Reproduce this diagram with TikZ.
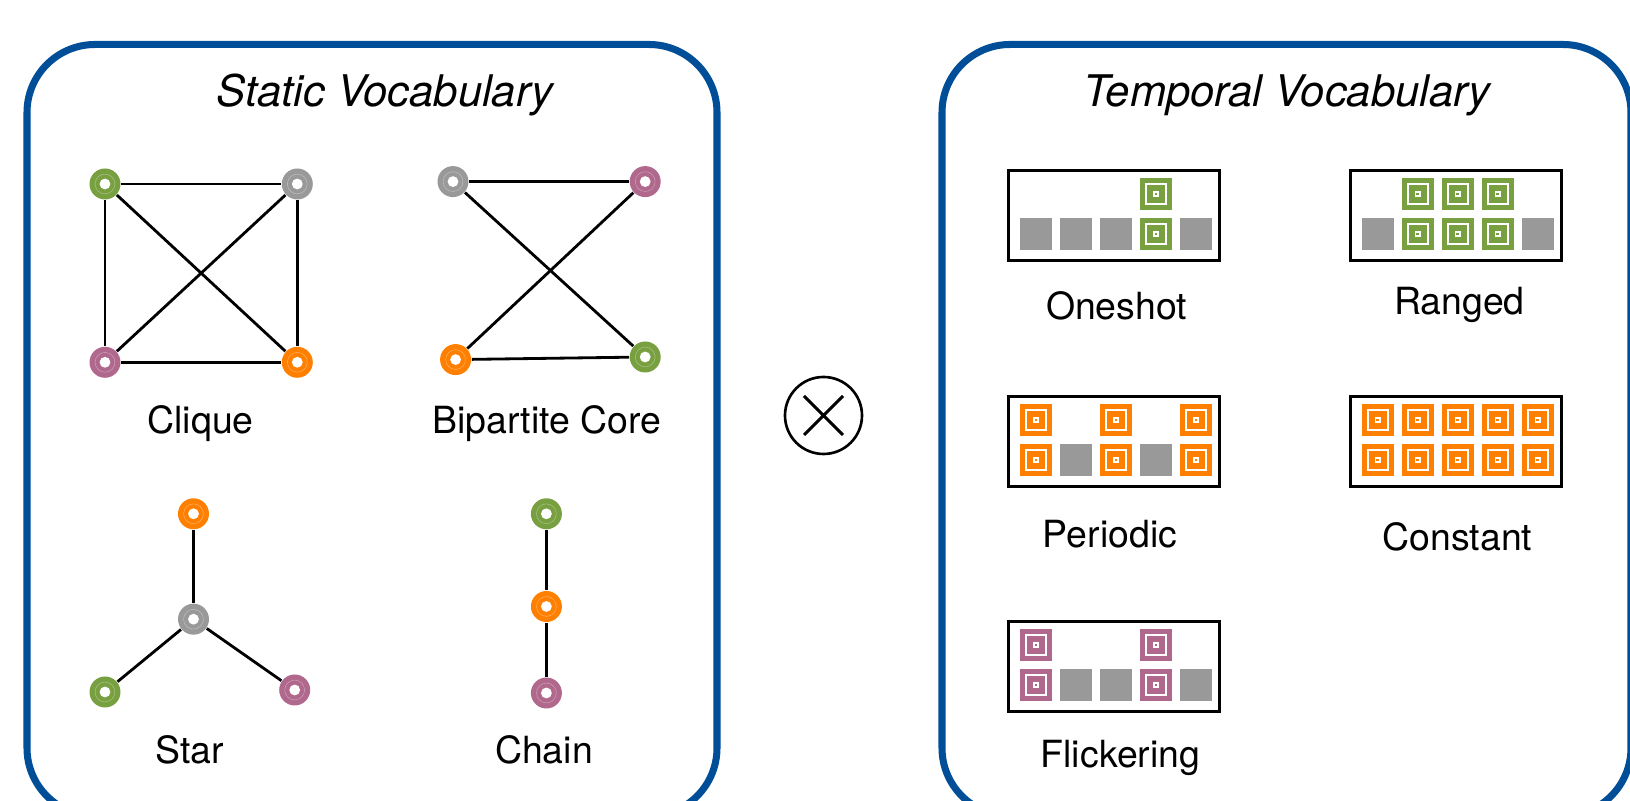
\documentclass[tikz,border=0pt]{standalone}
\usepackage{fontspec}
\setmainfont{TeX Gyre Heros}
\usetikzlibrary{positioning}

\definecolor{panelblue}{RGB}{0,78,152}
\definecolor{vgreen}{RGB}{120,160,64}
\definecolor{vpurple}{RGB}{176,104,140}
\definecolor{vorange}{RGB}{255,128,0}
\definecolor{vgray}{RGB}{153,153,153}

\tikzset{
  panel/.style={draw=panelblue, line width=2pt, rounded corners=0.68cm},
  vtitle/.style={font=\fontsize{12.4}{14}\selectfont\itshape, anchor=base, inner sep=0pt},
  vlabel/.style={font=\fontsize{10.65}{12}\selectfont, anchor=base, inner sep=0pt},
  ring/.style={circle, fill=#1, minimum size=0.31cm, inner sep=0pt,
    path picture={
      \draw[white, opacity=.35, line width=.15pt] (path picture bounding box.center) circle (0.099);
      \fill[white] (path picture bounding box.center) circle (0.054);}},
  slot/.style={fill=vgray, minimum size=0.32cm, inner sep=0pt},
  onslot/.style={fill=#1, minimum size=0.32cm, inner sep=0pt,
    path picture={
      \draw[white, line width=0.02cm] ([shift={(-0.10,-0.10)}]path picture bounding box.center) rectangle ++(0.20,0.20);
      \fill[white] ([shift={(-0.03,-0.03)}]path picture bounding box.center) rectangle ++(0.06,0.06);
      \fill[#1] ([shift={(-0.012,-0.012)}]path picture bounding box.center) rectangle ++(0.024,0.024);}},
  tbox/.style={draw, line width=0.85pt, minimum width=2.11cm, minimum height=0.90cm, inner sep=0pt},
  otimes/.style={circle, draw, line width=0.75pt, minimum size=0.77cm, inner sep=0pt,
    path picture={
      \draw[line width=0.85pt] ([shift={(-0.195,-0.195)}]path picture bounding box.center) -- ++(0.39,0.39)
        ([shift={(-0.195,0.195)}]path picture bounding box.center) -- ++(0.39,-0.39);}}
}

\begin{document}
\begin{tikzpicture}
	\useasboundingbox (0,0) rectangle (16.30,-8.01);
	\clip (0,0) rectangle (16.30,-8.01);

	% panels
	\draw[panel] (0.27,-0.445) rectangle (7.17,-8.16);
	\draw[panel] (9.42,-0.445) rectangle (16.31,-8.16);
	\node[vtitle] (stitle) at (3.85,-1.07) {Static Vocabulary};
	\node[vtitle] (ttitle) at (12.87,-1.07) {Temporal Vocabulary};

	% static vocabulary
	\begin{scope}
		\node[ring=vgreen] (c1) at (1.05,-1.84) {};
		\node[ring=vgray] (c2) at (2.973,-1.84) {};
		\node[ring=vpurple] (c3) at (1.05,-3.623) {};
		\node[ring=vorange] (c4) at (2.973,-3.623) {};
		\node[ring=vgray] (b1) at (4.53,-1.816) {};
		\node[ring=vpurple] (b2) at (6.452,-1.816) {};
		\node[ring=vorange] (b3) at (4.556,-3.596) {};
		\node[ring=vgreen] (b4) at (6.452,-3.57) {};
		\node[ring=vorange] (s1) at (1.935,-5.138) {};
		\node[ring=vgray] (s2) at (1.935,-6.192) {};
		\node[ring=vgreen] (s3) at (1.05,-6.92) {};
		\node[ring=vpurple] (s4) at (2.947,-6.90) {};
		\node[ring=vgreen] (h1) at (5.464,-5.138) {};
		\node[ring=vorange] (h2) at (5.464,-6.065) {};
		\node[ring=vpurple] (h3) at (5.464,-6.93) {};
	\end{scope}
	\begin{scope}[every edge/.style={draw=black, line width=0.8pt}]
		\path (c1) edge (c2) edge (c3) edge (c4);
		\path (c2) edge (c3) edge (c4);
		\path (c3) edge (c4);
		\path (b1) edge (b2) edge (b4);
		\path (b3) edge (b2) edge (b4);
		\path (s2) edge (s1) edge (s3) edge (s4);
		\path (h2) edge (h1) edge (h3);
	\end{scope}
	\node[vlabel] (clique) at (2.005,-4.34) {Clique};
	\node[vlabel] (bipartite) at (5.47,-4.34) {Bipartite Core};
	\node[vlabel] (star) at (1.897,-7.64) {Star};
	\node[vlabel] (chain) at (5.44,-7.64) {Chain};

	\node[otimes] (prod) at (8.235,-4.155) {};

	% temporal vocabulary
	\begin{scope}[shift={(11.14,-2.155)}]
		\node[tbox] (oneshot) at (0,0) {};
		\foreach \i in {0,1,2,4} \node[slot] (oneshot-b\i) at (-0.78+0.4*\i,-0.185) {};
		\node[onslot=vgreen] (oneshot-b3) at (0.42,-0.185) {};
		\node[onslot=vgreen] (oneshot-t3) at (0.42,0.215) {};
	\end{scope}
	\begin{scope}[shift={(14.555,-2.155)}]
		\node[tbox] (ranged) at (0,0) {};
		\foreach \i in {0,4} \node[slot] (ranged-b\i) at (-0.78+0.4*\i,-0.185) {};
		\foreach \i in {1,2,3} {
			\node[onslot=vgreen] (ranged-b\i) at (-0.78+0.4*\i,-0.185) {};
			\node[onslot=vgreen] (ranged-t\i) at (-0.78+0.4*\i,0.215) {};
		}
	\end{scope}
	\begin{scope}[shift={(11.14,-4.415)}]
		\node[tbox] (periodic) at (0,0) {};
		\foreach \i in {1,3} \node[slot] (periodic-b\i) at (-0.78+0.4*\i,-0.185) {};
		\foreach \i in {0,2,4} {
			\node[onslot=vorange] (periodic-b\i) at (-0.78+0.4*\i,-0.185) {};
			\node[onslot=vorange] (periodic-t\i) at (-0.78+0.4*\i,0.215) {};
		}
	\end{scope}
	\begin{scope}[shift={(14.555,-4.415)}]
		\node[tbox] (constant) at (0,0) {};
		\foreach \i in {0,...,4} {
			\node[onslot=vorange] (constant-b\i) at (-0.78+0.4*\i,-0.185) {};
			\node[onslot=vorange] (constant-t\i) at (-0.78+0.4*\i,0.215) {};
		}
	\end{scope}
	\begin{scope}[shift={(11.14,-6.667)}]
		\node[tbox] (flickering) at (0,0) {};
		\foreach \i in {1,2,4} \node[slot] (flickering-b\i) at (-0.78+0.4*\i,-0.185) {};
		\foreach \i in {0,3} {
			\node[onslot=vpurple] (flickering-b\i) at (-0.78+0.4*\i,-0.185) {};
			\node[onslot=vpurple] (flickering-t\i) at (-0.78+0.4*\i,0.215) {};
		}
	\end{scope}
	\node[vlabel] (l-oneshot) at (11.166,-3.195) {Oneshot};
	\node[vlabel] (l-ranged) at (14.595,-3.15) {Ranged};
	\node[vlabel] (l-periodic) at (11.10,-5.476) {Periodic};
	\node[vlabel] (l-constant) at (14.574,-5.507) {Constant};
	\node[vlabel] (l-flickering) at (11.205,-7.68) {Flickering};
\end{tikzpicture}
\end{document}
